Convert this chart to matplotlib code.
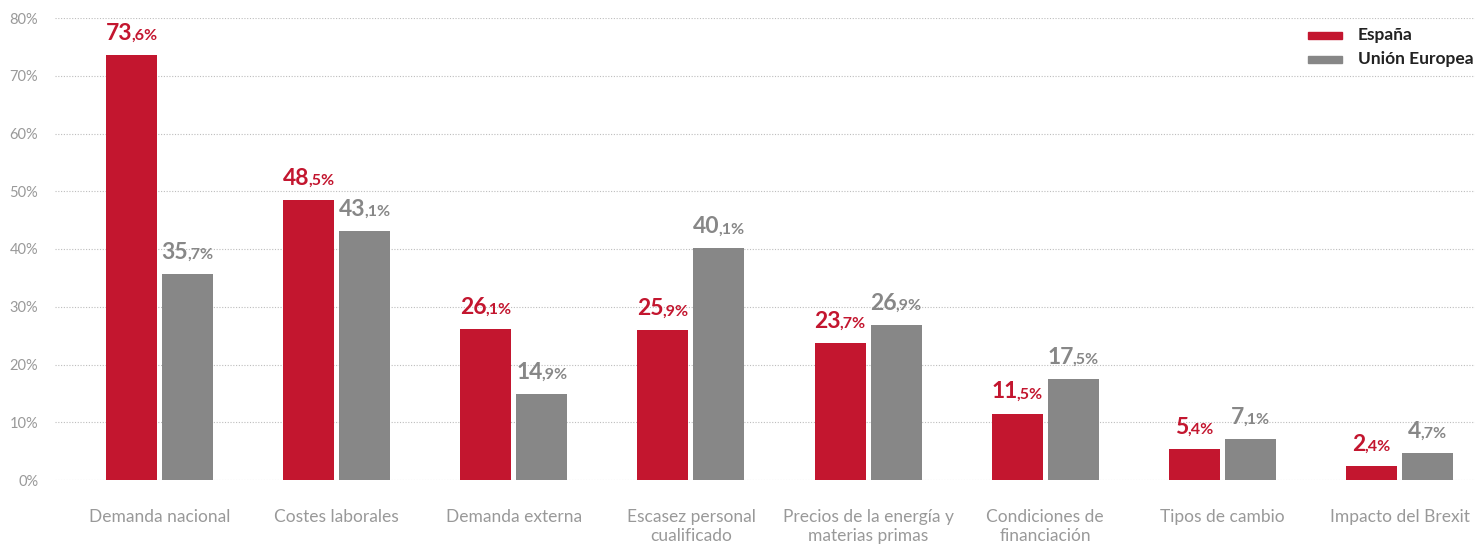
import matplotlib
matplotlib.use("Agg")
import matplotlib.pyplot as plt
import numpy as np
from matplotlib.offsetbox import TextArea, HPacker, AnnotationBbox
from matplotlib.patches import Rectangle

categories = ["Demanda nacional", "Costes laborales", "Demanda externa",
              "Escasez personal\ncualificado", "Precios de la energía y\nmaterias primas",
              "Condiciones de\nfinanciación", "Tipos de cambio", "Impacto del Brexit"]
espana = [73.6, 48.5, 26.1, 25.9, 23.7, 11.5, 5.4, 2.4]
ue = [35.7, 43.1, 14.9, 40.1, 26.9, 17.5, 7.1, 4.7]
yticks = [0, 10, 20, 30, 40, 50, 60, 70, 80]

RED = "#C3162F"
GRAY = "#878787"
TICK = "#999999"

fig = plt.figure(figsize=(14.75, 5.44), dpi=100)
ax = fig.add_axes([55/1475, (544-480)/544, 1 - 55/1475, (480-18)/544])

x = np.arange(len(categories))
w = 0.288
off = 0.158
ax.bar(x - off, espana, w, color=RED, zorder=3)
ax.bar(x + off, ue, w, color=GRAY, zorder=3)

ax.set_xlim(-0.59, 7.426)
ax.set_ylim(0, 80)
ax.set_yticks(yticks)
ax.set_yticklabels([f"{v}%" for v in yticks], fontsize=10.5, color=TICK, family="Lato")
ax.yaxis.grid(True, linestyle=(0, (1, 1.5)), color="#BDBDBD", linewidth=0.8, zorder=0)
ax.tick_params(axis="y", length=0, pad=12)
ax.tick_params(axis="x", length=0, pad=21)
ax.set_xticks(x)
ax.set_xticklabels(categories, fontsize=12.5, color=TICK, family="Lato", fontweight="normal",
                   va="top", linespacing=1.2)
for s in ax.spines.values():
    s.set_visible(False)

def add_label(xp, val, color):
    ip, dp = f"{val:.1f}".split(".")
    t1 = TextArea(ip, textprops=dict(fontsize=16.5, fontweight="bold", color=color, family="Lato"))
    t2 = TextArea("," + dp + "%", textprops=dict(fontsize=11.5, fontweight="bold", color=color, family="Lato"))
    box = HPacker(children=[t1, t2], align="baseline", pad=0, sep=-0.8)
    ab = AnnotationBbox(box, (xp, val), xybox=(0, 8), xycoords="data",
                        boxcoords="offset points", box_alignment=(0.5, 0), frameon=False,
                        annotation_clip=False)
    ax.add_artist(ab)

for i in range(len(categories)):
    add_label(x[i] - off, espana[i], RED)
    add_label(x[i] + off, ue[i], GRAY)

# legend
for j, (lab, col) in enumerate([("España", RED), ("Unión Europea", GRAY)]):
    yc = 35 + j * 24
    fig.patches.append(Rectangle((1308/1475, 1 - (yc + 3.5)/544), 34/1475, 7/544,
                                 transform=fig.transFigure, color=col))
    fig.text(1358/1475, 1 - yc/544, lab, fontsize=12.5, fontweight="bold", color="#222222",
             family="Lato", va="center", ha="left")

fig.savefig("out.png", dpi=100)
